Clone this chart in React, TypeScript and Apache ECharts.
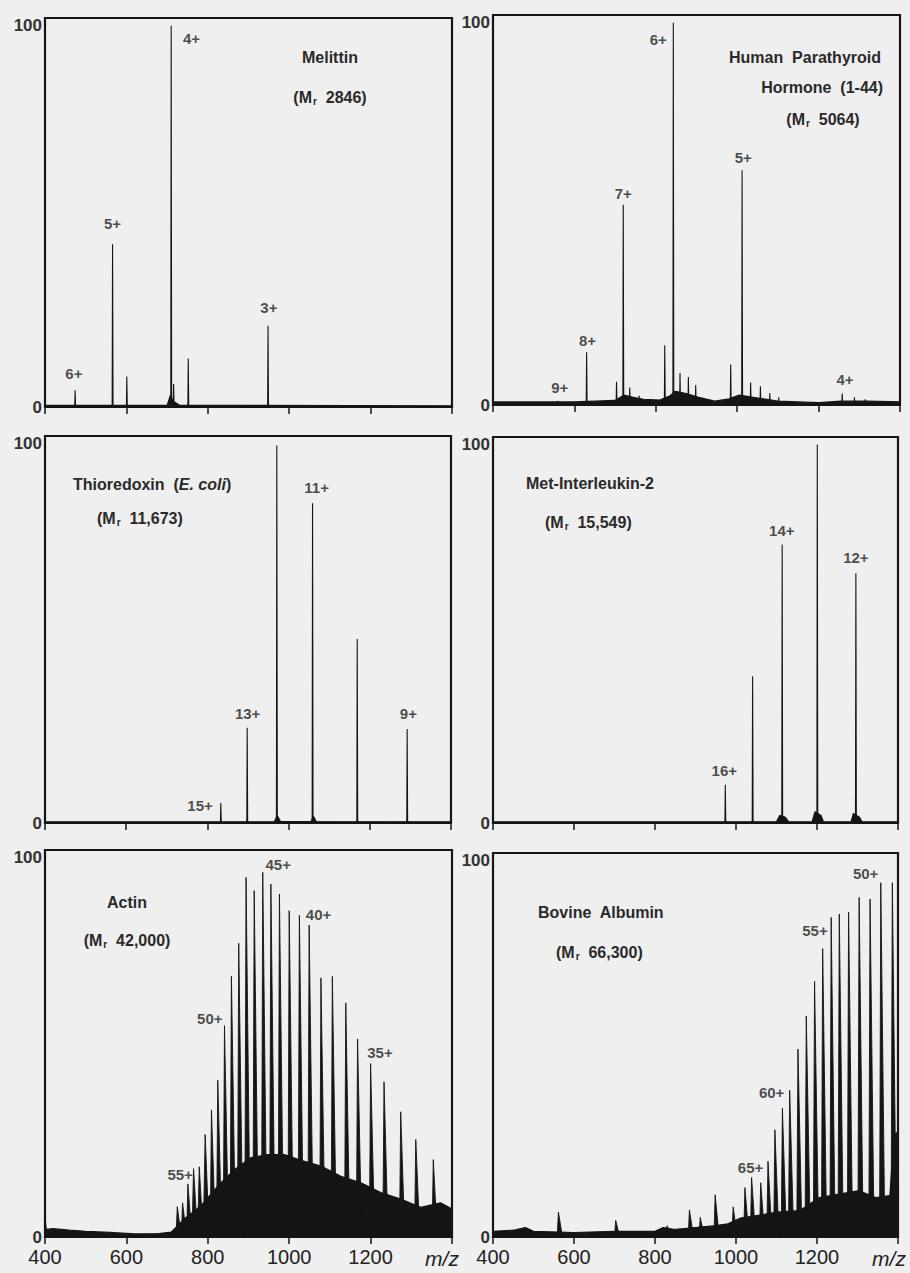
import React, { useEffect, useRef } from 'react';
import * as echarts from 'echarts';

// ---------- data (m/z, relative intensity %) ----------
const melittinMz = [474, 566, 601, 710, 716, 752, 948];
const melittinInt = [4.4, 42.7, 8, 100, 6, 12.7, 21.3];
const melittinLabels: [number, number, string][] = [[471, 8.7, '6+'], [566, 48, '5+'], [760, 96.5, '4+'], [950, 26, '3+']];
const melittinEnv: [number, number][] = [[400, 0.4], [700, 0.4], [708, 3], [715, 1.5], [730, 0.5], [1400, 0.3]];

const hpthMz = [559, 630, 703.5, 720, 736, 759, 822, 843, 859.5, 880, 898, 984, 1012, 1033, 1057, 1080, 1102, 1258, 1288, 1314];
const hpthInt = [1.1, 13.8, 6.1, 52.4, 4.6, 2.5, 15.6, 100, 8.4, 7.3, 5.2, 10.6, 61.4, 5.9, 4.9, 3.1, 2, 3, 2, 1.5];
const hpthLabels: [number, number, string][] = [[564, 4.6, '9+'], [632, 16.8, '8+'], [720, 55.4, '7+'], [806, 95.7, '6+'], [1015, 64.7, '5+'], [1265, 6.8, '4+']];
const hpthEnv: [number, number][] = [[400, 0.8], [600, 0.8], [700, 1.2], [722, 2.6], [745, 2], [770, 1.5], [810, 1.3], [835, 2.4], [848, 3.6], [875, 3], [905, 2], [945, 1], [980, 1.6], [1005, 2.6], [1040, 2], [1100, 1], [1200, 0.6], [1255, 1], [1320, 1], [1400, 0.8]];

const thioMz = [833, 898, 971, 1059, 1169, 1292];
const thioInt = [5.3, 25.1, 99.5, 84.3, 48.5, 24.8];
const thioLabels: [number, number, string][] = [[782, 4.7, '15+'], [899, 28.9, '13+'], [1069, 88.4, '11+'], [1295, 28.9, '9+']];
const thioEnv: [number, number][] = [[400, 0.3], [965, 0.3], [972, 2], [980, 0.4], [1055, 0.4], [1061, 1.8], [1068, 0.4], [1400, 0.3]];

const il2Mz = [973.6, 1041, 1114, 1200.7, 1296];
const il2Int = [10.1, 38.8, 73.6, 100, 66];
const il2Labels: [number, number, string][] = [[971, 13.8, '16+'], [1113, 77.2, '14+'], [1296, 70.2, '12+']];
const il2Env: [number, number][] = [[400, 0.3], [1100, 0.3], [1108, 2], [1122, 1.5], [1130, 0.3], [1188, 0.3], [1195, 3], [1210, 2], [1216, 0.3], [1284, 0.3], [1290, 2.5], [1305, 1.5], [1311, 0.3], [1400, 0.3]];

const actinMz = [725, 738, 751, 765, 779, 793.5, 809, 824.5, 841, 858, 876, 894, 914, 935, 955, 976, 1000, 1025, 1049, 1078, 1106, 1139, 1168, 1200, 1233, 1274, 1311, 1354];
const actinInt = [8, 9, 14, 18, 18.5, 27, 33.5, 41.3, 55.7, 68.7, 77.4, 94.8, 91.3, 96.1, 93, 90.4, 86, 84.8, 82.2, 68.3, 68.7, 61.7, 52.2, 45.7, 40.9, 33, 25.7, 20.4];
const actinLabels: [number, number, string][] = [[732, 16.6, '55+'], [805, 57.5, '50+'], [973, 98.3, '45+'], [1072, 85.1, '40+'], [1223, 48.6, '35+']];
const actinEnv: [number, number][] = [[400, 5], [403, 2], [420, 2.2], [460, 1.8], [500, 1.5], [560, 1.2], [620, 0.8], [680, 0.9], [710, 1.3], [743, 4.8], [784, 8.3], [825, 13.5], [866, 17.8], [906, 20.9], [947, 21.7], [988, 21.7], [1029, 20.2], [1078, 18.7], [1127, 16], [1176, 14.3], [1225, 11.7], [1274, 10], [1323, 7.8], [1372, 9], [1400, 7.4]];

const bsaMz = [561.5, 703, 830, 885, 911.7, 948.5, 993, 1022, 1038.5, 1061, 1079, 1096, 1114.6, 1132.5, 1153, 1173.5, 1194, 1214, 1235, 1255, 1278, 1304, 1331, 1357.5, 1386];
const bsaInt = [6.6, 4.4, 3, 7.2, 5.2, 11.2, 8, 13.1, 15.8, 14.4, 20.1, 28.5, 34.2, 39, 49.9, 58.7, 67.9, 76.6, 84.9, 85.8, 86.3, 90.2, 89.8, 94.1, 94.1];
const bsaLabels: [number, number, string][] = [[1036, 18.5, '65+'], [1088, 38.4, '60+'], [1195, 81.3, '55+'], [1320, 96.6, '50+']];
const bsaEnv: [number, number][] = [[400, 1.5], [450, 1.8], [480, 2.5], [500, 1.5], [600, 1.2], [700, 1.5], [800, 1.5], [820, 2.5], [850, 2], [900, 2.5], [950, 3], [980, 3.5], [1010, 5], [1040, 5.5], [1070, 6], [1100, 6.6], [1157, 7], [1206, 10.5], [1255, 11.4], [1304, 12.3], [1345, 10.5], [1380, 11], [1390, 27], [1400, 28]];

const xTicks = [400, 600, 800, 1000, 1200];

const titleTexts = {
  melittin: ['Melittin', '(M{r|r}  2846)'],
  hpth: ['Human  Parathyroid', 'Hormone  (1-44)', '(M{r|r}  5064)'],
  thio: ['Thioredoxin  ({i|E. coli})', '(M{r|r}  11,673)'],
  il2: ['Met-Interleukin-2', '(M{r|r}  15,549)'],
  actin: ['Actin', '(M{r|r}  42,000)'],
  bsa: ['Bovine  Albumin', '(M{r|r}  66,300)'],
};

// ---------- layout ----------
const FONT = '"Liberation Sans", Arial, sans-serif';
const INK = '#151515';
const BG = '#efefef';
const grids = [
  { left: 45, top: 18, width: 407, height: 389 },
  { left: 493, top: 15, width: 407, height: 390 },
  { left: 45, top: 436, width: 406, height: 387 },
  { left: 493, top: 437, width: 405, height: 386 },
  { left: 45, top: 850, width: 407, height: 387 },
  { left: 493, top: 853, width: 405, height: 384 },
];

function spikes(mz: number[], h: number[], wl: number, wr: number): number[][] {
  const out: number[][] = [[400, 0]];
  mz.forEach((m, i) => {
    out.push([m - wl, 0], [m, h[i]], [m + wr, 0]);
  });
  out.push([1400, 0]);
  return out;
}

const panels = [
  { mz: melittinMz, h: melittinInt, labels: melittinLabels, env: melittinEnv, filled: false },
  { mz: hpthMz, h: hpthInt, labels: hpthLabels, env: hpthEnv, filled: false },
  { mz: thioMz, h: thioInt, labels: thioLabels, env: thioEnv, filled: false },
  { mz: il2Mz, h: il2Int, labels: il2Labels, env: il2Env, filled: false },
  { mz: actinMz, h: actinInt, labels: actinLabels, env: actinEnv, filled: true },
  { mz: bsaMz, h: bsaInt, labels: bsaLabels, env: bsaEnv, filled: true },
];

const richSub = {
  r: { fontSize: 10, fontFamily: FONT, fontWeight: 'bold' as const, fill: '#2a2a2a', color: '#2a2a2a', padding: [9, 0, 0, 1] },
  i: { fontStyle: 'italic' as const, fontSize: 16, fontFamily: FONT, fontWeight: 'bold' as const, color: '#2a2a2a' },
};

function txt(text: string, x: number, y: number, align: 'left' | 'center' | 'right') {
  return {
    type: 'text',
    x,
    y,
    silent: true,
    style: {
      text,
      fill: '#2a2a2a',
      fontSize: 16,
      fontFamily: FONT,
      fontWeight: 'bold',
      textAlign: align,
      textVerticalAlign: 'middle',
      rich: richSub,
    },
  };
}

export default function App() {
  const ref = useRef<HTMLDivElement>(null);
  useEffect(() => {
    document.body.style.margin = '0';
    document.body.style.background = BG;
    if (!ref.current) return;
    const chart = echarts.init(ref.current, undefined, { renderer: 'svg' });

    const xAxis = grids.map((_, i) => ({
      gridIndex: i,
      type: 'value',
      min: 400,
      max: 1400,
      interval: 200,
      axisLine: { show: false },
      splitLine: { show: false },
      axisTick: { show: true, length: 7, lineStyle: { color: INK, width: 1.5 } },
      axisLabel: {
        show: i >= 4,
        margin: 10,
        fontSize: 20,
        fontFamily: FONT,
        color: '#222',
        formatter: (v: number) => (xTicks.includes(v) ? String(v) : ''),
      },
    }));
    const yAxis = grids.map((_, i) => ({
      gridIndex: i,
      type: 'value',
      min: 0,
      max: 102,
      interval: 100,
      axisLine: { show: false },
      axisTick: { show: false },
      splitLine: { show: false },
      axisLabel: {
        margin: 3,
        fontSize: 17,
        fontFamily: FONT,
        fontWeight: 'bold',
        color: '#333',
        formatter: (v: number) => (v === 0 || v === 100 ? String(v) : ''),
      },
    }));

    const series: any[] = [];
    panels.forEach((p, i) => {
      series.push({
        type: 'line',
        xAxisIndex: i,
        yAxisIndex: i,
        data: p.env,
        symbol: 'none',
        silent: true,
        lineStyle: { color: INK, width: 1.2 },
        areaStyle: { color: INK, opacity: 1 },
      });
      series.push({
        type: 'line',
        xAxisIndex: i,
        yAxisIndex: i,
        data: p.filled ? spikes(p.mz, p.h, 3, 10) : spikes(p.mz, p.h, 1, 1.2),
        symbol: 'none',
        silent: true,
        lineStyle: { color: INK, width: p.filled ? 0.9 : 1.1 },
        areaStyle: p.filled ? { color: INK, opacity: 1 } : undefined,
      });
      series.push({
        type: 'scatter',
        xAxisIndex: i,
        yAxisIndex: i,
        symbolSize: 1,
        silent: true,
        itemStyle: { color: 'rgba(0,0,0,0)' },
        data: p.labels.map((l) => ({ value: [l[0], l[1]], name: l[2] })),
        label: {
          show: true,
          position: 'inside',
          formatter: '{b}',
          fontSize: 15,
          fontFamily: FONT,
          fontWeight: 'bold',
          color: '#222',
        },
      });
    });

    const graphic = [
      txt(titleTexts.melittin[0], 330, 57, 'center'),
      txt(titleTexts.melittin[1], 330, 97, 'center'),
      txt(titleTexts.hpth[0], 881, 57, 'right'),
      txt(titleTexts.hpth[1], 883, 87, 'right'),
      txt(titleTexts.hpth[2], 823, 119, 'center'),
      txt(titleTexts.thio[0], 73, 484, 'left'),
      txt(titleTexts.thio[1], 97, 518, 'left'),
      txt(titleTexts.il2[0], 526, 483, 'left'),
      txt(titleTexts.il2[1], 545, 522, 'left'),
      txt(titleTexts.actin[0], 127, 902, 'center'),
      txt(titleTexts.actin[1], 127, 940, 'center'),
      txt(titleTexts.bsa[0], 538, 912, 'left'),
      txt(titleTexts.bsa[1], 556, 952, 'left'),
      {
        type: 'text', x: 442, y: 1258, silent: true,
        style: { text: 'm/z', fill: '#222', fontSize: 21, fontFamily: FONT, fontStyle: 'italic', textAlign: 'center', textVerticalAlign: 'middle' },
      },
      {
        type: 'text', x: 889, y: 1258, silent: true,
        style: { text: 'm/z', fill: '#222', fontSize: 21, fontFamily: FONT, fontStyle: 'italic', textAlign: 'center', textVerticalAlign: 'middle' },
      },
    ];

    chart.setOption({
      animation: false,
      backgroundColor: BG,
      grid: grids.map((g) => ({ ...g, show: true, borderColor: INK, borderWidth: 2.2, backgroundColor: 'transparent', containLabel: false })),
      xAxis,
      yAxis,
      series,
      graphic,
    });
    return () => chart.dispose();
  }, []);
  return <div ref={ref} style={{ width: 910, height: 1273, background: BG }} />;
}
